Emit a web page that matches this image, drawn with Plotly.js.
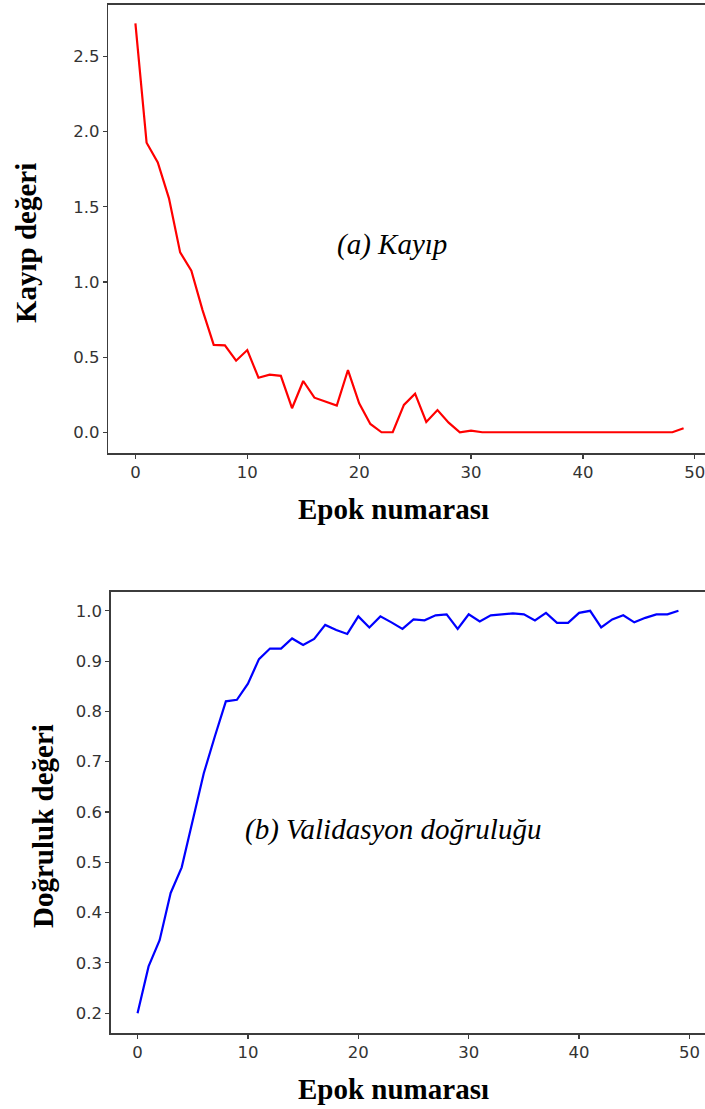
<!DOCTYPE html>
<html>
<head>
<meta charset="utf-8">
<script src="https://cdn.plot.ly/plotly-3.0.1.min.js"></script>
<style>
html,body{margin:0;padding:0;overflow:hidden;background:#fff;}
#chart{width:715px;height:1109px;}
</style>
</head>
<body>
<div id="chart"></div>
<script>
// Epoch numbers
const epochs = Array.from({length: 50}, (_, i) => i);

// (a) Loss values per epoch
const lossValues = [
  2.72, 1.926, 1.795, 1.556, 1.197, 1.075, 0.813, 0.581, 0.578, 0.476,
  0.547, 0.363, 0.383, 0.375, 0.160, 0.341, 0.230, 0.204, 0.177, 0.414,
  0.193, 0.055, 0.0, 0.0, 0.182, 0.257, 0.069, 0.148, 0.064, 0.0,
  0.011, 0.0, 0.0, 0.0, 0.0, 0.0, 0.0, 0.0, 0.0, 0.0,
  0.0, 0.0, 0.0, 0.0, 0.0, 0.0, 0.0, 0.0, 0.0, 0.027
];

// (b) Validation accuracy per epoch
const accValues = [
  0.200, 0.293, 0.345, 0.439, 0.490, 0.584, 0.677, 0.750, 0.820, 0.823,
  0.855, 0.904, 0.925, 0.925, 0.945, 0.932, 0.944, 0.972, 0.962, 0.954,
  0.989, 0.967, 0.989, 0.977, 0.964, 0.983, 0.981, 0.991, 0.993, 0.964,
  0.993, 0.979, 0.991, 0.993, 0.995, 0.993, 0.981, 0.996, 0.976, 0.976,
  0.996, 1.000, 0.967, 0.983, 0.991, 0.977, 0.986, 0.993, 0.993, 1.000
];

// Texts
const xTitle = "Epok numarası";
const lossTitle = "Kayıp değeri";
const accTitle = "Doğruluk değeri";
const lossLabel = "(a) Kayıp";
const accLabel = "(b) Validasyon doğruluğu";

const W = 715, H = 1109;
const px = v => v / W;
const py = v => 1 - v / H;

const axisCommon = {
  showgrid: false, zeroline: false, showline: true, mirror: true,
  linecolor: '#3c3c3c', linewidth: 1.3,
  ticks: 'outside', ticklen: 4, tickwidth: 1.2, tickcolor: '#3c3c3c',
  tickfont: {family: 'DejaVu Sans', size: 16.5, color: '#333'},
  fixedrange: true
};

const traces = [
  {x: epochs, y: lossValues, type: 'scatter', mode: 'lines',
   line: {color: '#ff0000', width: 2.2}, xaxis: 'x', yaxis: 'y', hoverinfo: 'skip'},
  {x: epochs, y: accValues, type: 'scatter', mode: 'lines',
   line: {color: '#0000ff', width: 2.2}, xaxis: 'x2', yaxis: 'y2', hoverinfo: 'skip'}
];

const titleFont = {family: 'Liberation Serif', size: 29, color: '#000'};
const italFont = {family: 'Liberation Serif', size: 29, color: '#000', style: 'italic'};

const layout = {
  width: W, height: H,
  margin: {l: 0, r: 0, t: 0, b: 0},
  paper_bgcolor: '#fff', plot_bgcolor: '#fff',
  showlegend: false,
  xaxis: Object.assign({}, axisCommon, {
    domain: [px(108), px(711)], range: [-2.45, 51.45], dtick: 10, tick0: 0, anchor: 'y'
  }),
  yaxis: Object.assign({}, axisCommon, {
    domain: [py(453.3), py(4.5)], range: [-0.14, 2.846], dtick: 0.5, tick0: 0,
    tickformat: '.1f', anchor: 'x'
  }),
  xaxis2: Object.assign({}, axisCommon, {
    domain: [px(110.5), px(705.5)], range: [-2.45, 51.45], dtick: 10, tick0: 0, anchor: 'y2'
  }),
  yaxis2: Object.assign({}, axisCommon, {
    domain: [py(1033.3), py(591.7)], range: [0.160, 1.038], dtick: 0.1, tick0: 0,
    tickformat: '.1f', anchor: 'x2'
  }),
  annotations: [
    {text: '<b>' + xTitle + '</b>', xref: 'paper', yref: 'paper', x: px(393), y: py(509),
     xanchor: 'center', yanchor: 'middle', showarrow: false, font: titleFont},
    {text: '<b>' + xTitle + '</b>', xref: 'paper', yref: 'paper', x: px(393), y: py(1089),
     xanchor: 'center', yanchor: 'middle', showarrow: false, font: titleFont},
    {text: '<b>' + lossTitle + '</b>', xref: 'paper', yref: 'paper', x: px(26), y: py(243),
     xanchor: 'center', yanchor: 'middle', showarrow: false, textangle: -90, font: titleFont},
    {text: '<b>' + accTitle + '</b>', xref: 'paper', yref: 'paper', x: px(43), y: py(826),
     xanchor: 'center', yanchor: 'middle', showarrow: false, textangle: -90, font: titleFont},
    {text: '<i>' + lossLabel + '</i>', xref: 'paper', yref: 'paper', x: px(392), y: py(244),
     xanchor: 'center', yanchor: 'middle', showarrow: false, font: titleFont},
    {text: '<i>' + accLabel + '</i>', xref: 'paper', yref: 'paper', x: px(393), y: py(829),
     xanchor: 'center', yanchor: 'middle', showarrow: false, font: titleFont}
  ]
};

Plotly.newPlot('chart', traces, layout, {displayModeBar: false, staticPlot: true});
</script>
</body>
</html>
